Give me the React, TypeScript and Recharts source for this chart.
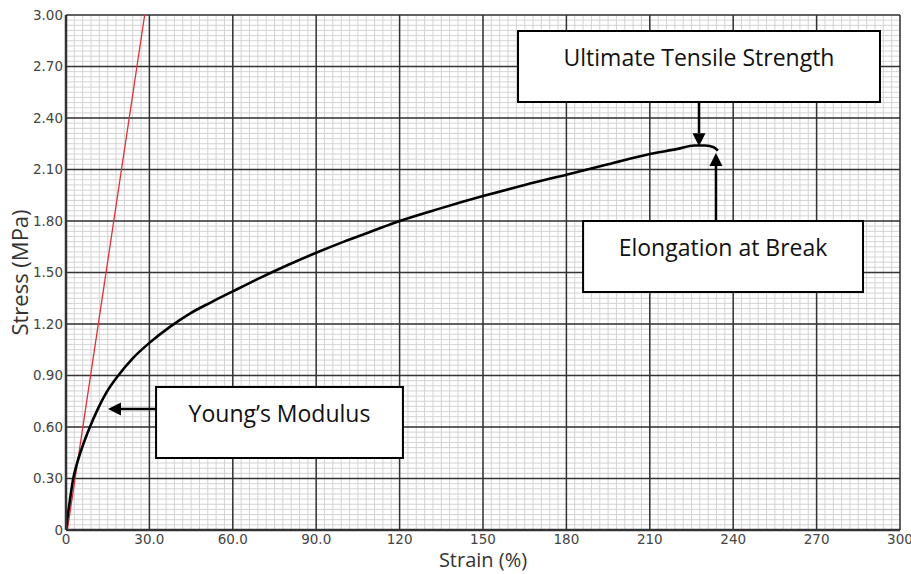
import React from "react";
import { LineChart, Line, XAxis, YAxis, CartesianGrid, ReferenceArea, ReferenceLine } from "recharts";

// stress-strain curve
const strain = [0, 0.5, 1.2, 2.6, 4, 6, 8.6, 11.3, 14.5, 18.8, 24, 30, 37.5, 45, 52, 60, 70, 80, 90, 100, 110, 120, 135, 150, 165, 180, 195, 210, 220, 226, 230, 233, 234.5];
const stress = [0, 0.07, 0.15, 0.3, 0.39, 0.49, 0.6, 0.7, 0.8, 0.9, 1.0, 1.09, 1.185, 1.265, 1.325, 1.39, 1.47, 1.545, 1.615, 1.68, 1.74, 1.8, 1.875, 1.945, 2.01, 2.07, 2.13, 2.19, 2.22, 2.24, 2.24, 2.23, 2.21];

// young's modulus fit line
const modulusStrain = [0.5, 28.3];
const modulusStress = [0, 3.0];

const xTicks = [0, 30, 60, 90, 120, 150, 180, 210, 240, 270, 300];
const yTicks = [0, 0.3, 0.6, 0.9, 1.2, 1.5, 1.8, 2.1, 2.4, 2.7, 3.0];
const xMinor = Array.from({ length: 101 }, (_, i) => i * 3);
const yMinor = Array.from({ length: 101 }, (_, i) => i * 0.03);

// annotation boxes: [x1, x2, y1, y2]
const boxNames = ["Ultimate Tensile Strength", "Elongation at Break", "Young\u2019s Modulus"];
const boxX1 = [162.6, 186, 32.4];
const boxX2 = [292.8, 286.7, 121.2];
const boxYLow = [2.493, 1.386, 0.419];
const boxYHigh = [2.907, 1.8, 0.833];

// arrows: from -> to
const arrowFrom = [{ x: 227.7, y: 2.493 }, { x: 233.8, y: 1.8 }, { x: 32.4, y: 0.705 }];
const arrowTo = [{ x: 227.7, y: 2.236 }, { x: 233.8, y: 2.196 }, { x: 15.1, y: 0.705 }];

const curveData = strain.map((s, i) => ({ strain: s, stress: stress[i] }));
const modulusData = modulusStrain.map((s, i) => ({ strain: s, stress: modulusStress[i] }));

const fmtX = (v: number) => (v === 0 ? "0" : v < 100 ? v.toFixed(1) : String(v));
const fmtY = (v: number) => (v === 0 ? "0" : v.toFixed(2));

const minorV = ({ offset }: any) => xMinor.map((v) => offset.left + (v / 300) * offset.width);
const minorH = ({ offset }: any) => yMinor.map((v) => offset.top + offset.height - (v / 3) * offset.height);
const majorV = ({ offset }: any) => xTicks.map((v) => offset.left + (v / 300) * offset.width);
const majorH = ({ offset }: any) => yTicks.map((v) => offset.top + offset.height - (v / 3) * offset.height);

const Arrow = (props: any) => {
  const { x1, y1, x2, y2 } = props;
  const dx = x2 - x1;
  const dy = y2 - y1;
  const len = Math.sqrt(dx * dx + dy * dy) || 1;
  const ux = dx / len;
  const uy = dy / len;
  const hl = 13;
  const hw = 6.5;
  const bx = x2 - ux * hl;
  const by = y2 - uy * hl;
  const pts = `${x2},${y2} ${bx - uy * hw},${by + ux * hw} ${bx + uy * hw},${by - ux * hw}`;
  return (
    <g>
      <line x1={x1} y1={y1} x2={bx} y2={by} stroke="#000" strokeWidth={2.5} />
      <polygon points={pts} fill="#000" />
    </g>
  );
};

const BoxLabel = ({ viewBox, value }: any) => {
  const { x, y, width, height } = viewBox;
  return (
    <text x={x + width / 2} y={y + height / 2 - 7} textAnchor="middle" dominantBaseline="middle"
      fontFamily="'Open Sans', Lato, sans-serif" fontSize={23} fill="#111">
      {value}
    </text>
  );
};

const XLabel = ({ viewBox }: any) => (
  <text x={viewBox.x + viewBox.width / 2} y={562} textAnchor="middle" dominantBaseline="middle"
    fontFamily="'Open Sans', sans-serif" fontSize={20} fill="#333">
    Strain (%)
  </text>
);

const YLabel = ({ viewBox }: any) => {
  const cx = 22;
  const cy = viewBox.y + viewBox.height / 2;
  return (
    <text x={cx} y={cy} transform={`rotate(-90, ${cx}, ${cy})`} textAnchor="middle" dominantBaseline="middle"
      fontFamily="'Open Sans', sans-serif" fontSize={22} fill="#333">
      Stress (MPa)
    </text>
  );
};

export default function App() {
  const tickStyle = { fontFamily: "'DejaVu Sans', sans-serif", fontSize: 13.5, fill: "#444" };
  return (
    <div style={{ position: "absolute", left: 0, top: 0, width: 911, height: 574, background: "#fff" }}>
      <LineChart width={911} height={574} margin={{ top: 15, right: 11, bottom: 0, left: 0 }}>
        <CartesianGrid verticalCoordinatesGenerator={minorV} horizontalCoordinatesGenerator={minorH} stroke="#d3d3d3" strokeWidth={1} />
        <CartesianGrid verticalCoordinatesGenerator={majorV} horizontalCoordinatesGenerator={majorH} stroke="#333" strokeWidth={1.5} fill="none" />
        <XAxis type="number" dataKey="strain" domain={[0, 300]} ticks={xTicks} tickFormatter={fmtX} allowDataOverflow
          height={44} tickLine={false} tickSize={0} tickMargin={4} tick={tickStyle}
          axisLine={{ stroke: "#333", strokeWidth: 2.5 }}
          label={<XLabel />} />
        <YAxis type="number" domain={[0, 3]} ticks={yTicks} tickFormatter={fmtY} allowDataOverflow
          width={66} tickLine={false} tickSize={0} tickMargin={3} tick={tickStyle}
          axisLine={{ stroke: "#333", strokeWidth: 2.5 }}
          label={<YLabel />} />
        <Line data={modulusData} dataKey="stress" type="linear" stroke="#e0303a" strokeWidth={1.3} dot={false} isAnimationActive={false} />
        <Line data={curveData} dataKey="stress" type="monotone" stroke="#000" strokeWidth={2.6} dot={false} isAnimationActive={false} />
        {boxNames.map((name, i) => (
          <ReferenceArea key={name} x1={boxX1[i]} x2={boxX2[i]} y1={boxYLow[i]} y2={boxYHigh[i]}
            fill="#fff" fillOpacity={1} stroke="#000" strokeWidth={2} ifOverflow="visible"
            label={<BoxLabel value={name} />} />
        ))}
        {arrowFrom.map((p, i) => (
          <ReferenceLine key={i} segment={[p, arrowTo[i]]} ifOverflow="visible" shape={Arrow} />
        ))}
      </LineChart>
    </div>
  );
}
